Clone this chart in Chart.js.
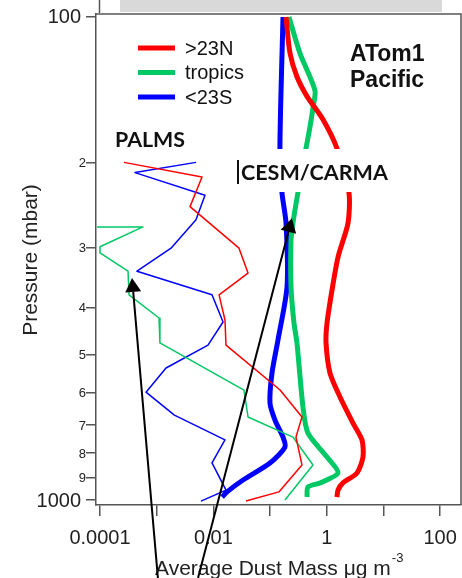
<!DOCTYPE html>
<html><head><meta charset="utf-8">
<script src="https://cdn.jsdelivr.net/npm/chart.js@4.4.1/dist/chart.umd.min.js"></script>
<style>html,body{margin:0;padding:0;background:#fff;overflow:hidden}canvas{display:block}</style>
</head><body>
<canvas id="c" width="462" height="578"></canvas>
<script>
// [dust mass ug/m3, pressure mbar]
// CESM/CARMA model profiles (thick)
const cesmNorth = [[0.191,100],[0.224,118.7],[0.298,133],[0.448,146],[0.857,163],[1.51,187],[2.46,231],[2.37,267],[1.58,314],[1.24,367],[1.01,430],[0.97,473],[1.14,546],[1.71,612],[2.90,693],[4.18,751],[4.35,815],[3.41,879],[1.93,922],[1.58,953],[1.51,986]];
const cesmTropics = [[0.215,100],[0.337,119],[0.619,142],[0.571,154],[0.505,169],[0.430,187],[0.310,231],[0.253,267],[0.234,290],[0.234,362],[0.264,430],[0.298,473],[0.380,642],[0.466,727],[1.01,815],[1.58,879],[0.76,922],[0.466,940],[0.448,986]];
const cesmSouth = [[0.169,100],[0.149,187],[0.162,231],[0.191,267],[0.199,362],[0.138,466],[0.108,546],[0.0996,630],[0.122,683],[0.169,741],[0.183,777],[0.0996,838],[0.0333,909],[0.0174,962],[0.0142,986]];
// PALMS measurements (thin)
const palmsNorth = [[2.65e-4,200],[6.3e-3,214.5],[3.87e-3,247],[2.83e-2,301],[4.08e-2,339],[1.26e-2,376],[1.60e-2,424],[1.67e-2,478],[0.15,592],[0.365,673],[0.286,741],[0.365,846],[0.143,962],[0.0376,1005]];
const palmsTropics = [[8.85e-5,272],[5.73e-4,272],[1.0e-4,299],[1.0e-4,308],[3.12e-4,336],[3.25e-4,376],[1.10e-3,420],[1.14e-3,473],[3.46e-2,592],[4.08e-2,673],[0.253,741],[0.571,846],[0.183,1000]];
const palmsSouth = [[4.93e-3,200],[4.14e-4,210],[7.11e-3,234],[4.93e-3,263],[1.79e-3,301],[4.49e-4,336],[9.45e-3,376],[1.48e-2,428],[8.03e-3,478],[1.46e-3,533],[6.48e-4,598],[2.05e-3,667],[1.60e-2,751],[9.45e-3,838],[1.67e-2,954],[6.04e-3,1005]];

const seriesNames = ['>23N','tropics','<23S'];
const seriesColors = ['#ff0000','#00c864','#0000ff'];

const xTickValues = [1e-4,1e-3,1e-2,1e-1,1,10,100];
const xTickLabels = ['0.0001','','0.01','','1','','100'];
const yTickValues = [100,200,300,400,500,600,700,800,900,1000];
const yTickLabels = ['100','2','3','4','5','6','7','8','9','1000'];

// arrows from below the axis up to the profiles
const arrowTips = [[3.67e-4,347],[0.243,261]];
const arrowTails = [[1.05e-3,1450],[5.36e-3,1450]];

const FONT = '"Liberation Sans", Arial, sans-serif';
const pts = a => a.map(d => ({x:d[0], y:d[1]}));

function ds(data, color, thick){
  return {data:pts(data), showLine:true, borderColor:color, backgroundColor:color,
    borderWidth: thick?5:1.5, pointRadius:0, tension: thick?0.25:0,
    borderJoinStyle:'round', borderCapStyle:'butt', order: thick?1:0};
}

function fitText(ctx, txt, weight, family, width){
  ctx.font = weight+' 20px '+family;
  const w = ctx.measureText(txt).width;
  return 20*width/w;
}

const deco = {
  id:'deco',
  beforeDraw(chart){
    const c = chart.ctx; c.save();
    c.fillStyle='#fff'; c.fillRect(0,0,chart.width,chart.height);
    c.fillStyle='#d9d9d9'; c.fillRect(120,0,322,12);
    c.strokeStyle='#555'; c.lineWidth=1.5;
    c.beginPath(); c.moveTo(99.5,0); c.lineTo(99.5,13); c.stroke();
    c.restore();
  },
  afterDatasetsDraw(chart){
    const c = chart.ctx; c.save();
    // white label box over the model lines
    c.fillStyle='#fff'; c.fillRect(236,149,160,43);
    c.restore();
  },
  afterDraw(chart){
    const c = chart.ctx, a = chart.chartArea, xs = chart.scales.x, ys = chart.scales.y;
    c.save();
    // frame top/right
    c.strokeStyle='#555'; c.lineWidth=1.5;
    c.beginPath(); c.moveTo(a.left,a.top); c.lineTo(a.right,a.top); c.lineTo(a.right,a.bottom); c.stroke();
    // y tick labels
    c.fillStyle='#222'; c.textBaseline='middle'; c.textAlign='right';
    yTickValues.forEach((v,i)=>{
      const big = yTickLabels[i].length>1;
      c.font = (big?20:13)+'px '+FONT;
      c.fillText(yTickLabels[i], big?81:86, ys.getPixelForValue(v)+1);
    });
    // y title
    c.save(); c.translate(37,260); c.rotate(-Math.PI/2);
    c.textAlign='center'; c.textBaseline='alphabetic'; c.font='21px '+FONT;
    c.fillText('Pressure (mbar)',0,0); c.restore();
    // x title with superscript
    c.textAlign='left'; c.textBaseline='alphabetic'; c.font='21px '+FONT;
    const t = 'Average Dust Mass \u03bcg m';
    c.fillText(t,155,575);
    const tw = c.measureText(t).width;
    c.font='13px '+FONT; c.fillText('-3',155+tw+1,562);
    // legend
    seriesNames.forEach((n,i)=>{
      const y = 48+i*24.5;
      c.strokeStyle=seriesColors[i]; c.lineWidth=5; c.lineCap='butt';
      c.beginPath(); c.moveTo(138,y); c.lineTo(175,y); c.stroke();
      c.fillStyle='#111'; c.font='20px '+FONT; c.textBaseline='middle';
      c.fillText(n,185,y+1);
    });
    // panel labels
    c.textBaseline='alphabetic'; c.fillStyle='#111';
    c.font='bold 23px '+FONT;
    c.fillText('ATom1',350,61); c.fillText('Pacific',350,87);
    let s = fitText(c,'PALMS','bold','Lato, "Open Sans", sans-serif',70);
    c.font='bold '+s+'px Lato, "Open Sans", sans-serif'; c.fillText('PALMS',115,147);
    s = fitText(c,'CESM/CARMA','bold','Lato, "Open Sans", sans-serif',147);
    c.font='bold '+s+'px Lato, "Open Sans", sans-serif'; c.fillText('CESM/CARMA',241,180);
    c.fillRect(237,160,2,24);
    // arrows
    arrowTips.forEach((tp,i)=>{
      const x1 = xs.getPixelForValue(arrowTails[i][0]), y1 = ys.getPixelForValue(arrowTails[i][1]);
      const x2 = xs.getPixelForValue(tp[0]), y2 = ys.getPixelForValue(tp[1]);
      const ang = Math.atan2(y2-y1,x2-x1), L=14, W=8;
      const bx = x2-L*Math.cos(ang), by = y2-L*Math.sin(ang);
      c.strokeStyle='#000'; c.lineWidth=2;
      c.beginPath(); c.moveTo(x1,y1); c.lineTo(bx,by); c.stroke();
      c.fillStyle='#000'; c.beginPath();
      c.moveTo(x2,y2);
      c.lineTo(bx+W*Math.sin(ang), by-W*Math.cos(ang));
      c.lineTo(bx-W*Math.sin(ang), by+W*Math.cos(ang));
      c.closePath(); c.fill();
    });
    c.restore();
  }
};

new Chart(document.getElementById('c'), {
  type:'scatter',
  data:{datasets:[
    ds(cesmNorth, seriesColors[0], true),
    ds(cesmTropics, seriesColors[1], true),
    ds(cesmSouth, seriesColors[2], true),
    ds(palmsNorth, seriesColors[0], false),
    ds(palmsTropics, seriesColors[1], false),
    ds(palmsSouth, seriesColors[2], false)
  ]},
  options:{
    responsive:false, animation:false, devicePixelRatio:1,
    layout:{padding:{top:14,right:1,left:0,bottom:0}},
    plugins:{legend:{display:false},tooltip:{enabled:false}},
    scales:{
      x:{type:'logarithmic', min:8.5e-5, max:233,
        afterFit(s){ s.height=73; s.paddingLeft=0; s.paddingRight=0; },
        afterBuildTicks(s){ s.ticks = xTickValues.map(v=>({value:v})); },
        ticks:{callback:(v,i)=>xTickLabels[i], autoSkip:false, maxRotation:0, font:{family:FONT,size:20}, color:'#222', padding:10},
        grid:{drawOnChartArea:false, tickLength:11, color:'#555', lineWidth:1.5},
        border:{color:'#555', width:1.5}},
      y:{type:'logarithmic', reverse:true, min:98.6, max:1024,
        afterFit(s){ s.width=96; s.paddingTop=0; s.paddingBottom=0; },
        afterBuildTicks(s){ s.ticks = yTickValues.map(v=>({value:v})); },
        ticks:{display:false},
        grid:{drawOnChartArea:false, tickLength:10, color:'#555', lineWidth:1.5},
        border:{color:'#555', width:1.5}}
    }
  },
  plugins:[deco]
});
</script>
</body></html>
